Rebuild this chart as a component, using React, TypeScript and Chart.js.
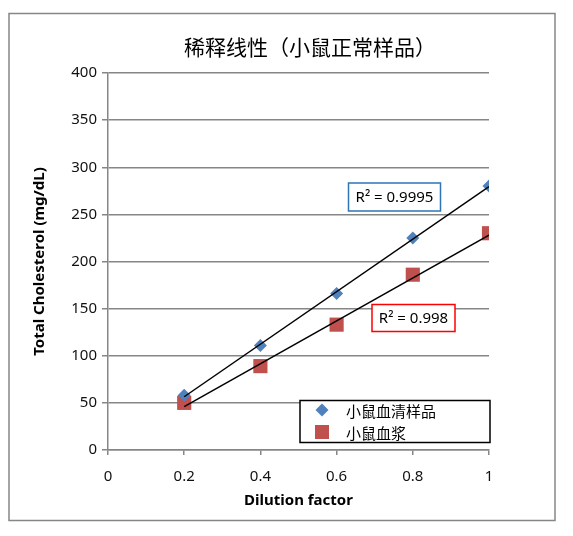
import { useEffect, useRef } from 'react';
import { Chart, registerables } from 'chart.js';

Chart.register(...registerables);

const dilution = [0.2, 0.4, 0.6, 0.8, 1.0];
const serumValues = [58, 111, 166, 225, 280];
const plasmaValues = [50, 89, 133, 186, 230];
const fitX = [0.2, 1.0];
const serumFit = [56.5, 279.5];
const plasmaFit = [46, 228];
const xTicks = [0, 0.2, 0.4, 0.6, 0.8, 1];
const legendLabels = ['小鼠血清样品', '小鼠血浆'];
const serumR2 = 'R² = 0.9995';
const plasmaR2 = 'R² = 0.998';
const chartTitle = '稀释线性（小鼠正常样品）';

const GRAY = '#868686';
const BLUE = '#4F81BD';
const RED = '#C0504D';
const LATIN = '"Noto Sans", "Open Sans", sans-serif';
const CJK = '"Noto Sans CJK SC", sans-serif';

const decorations = {
  id: 'decorations',
  beforeDraw(chart: any) {
    const { ctx, width, height } = chart;
    ctx.save();
    ctx.fillStyle = '#fff';
    ctx.fillRect(0, 0, width, height);
    ctx.strokeStyle = GRAY;
    ctx.lineWidth = 1.5;
    ctx.strokeRect(1, 5.5, 546, 507);
    ctx.restore();
  },
  afterDraw(chart: any) {
    const { ctx } = chart;
    ctx.save();
    // title
    ctx.fillStyle = '#000';
    ctx.font = `21px ${CJK}`;
    ctx.textAlign = 'center';
    ctx.textBaseline = 'middle';
    ctx.fillText(chartTitle, 302, 39);

    // R² labels
    const box = (x: number, y: number, w: number, h: number, color: string, text: string) => {
      ctx.fillStyle = '#fff';
      ctx.fillRect(x, y, w, h);
      ctx.strokeStyle = color;
      ctx.lineWidth = 1.5;
      ctx.strokeRect(x, y, w, h);
      ctx.fillStyle = '#000';
      ctx.font = `15px ${LATIN}`;
      ctx.textAlign = 'center';
      ctx.textBaseline = 'middle';
      ctx.fillText(text, x + w / 2, y + h / 2 + 1);
    };
    box(340.5, 175, 92, 28, '#2E75B6', serumR2);
    box(364, 296.5, 83, 27, '#FF0000', plasmaR2);

    // legend
    const lx = 292, ly = 392.5, lw = 190, lh = 42;
    ctx.fillStyle = '#fff';
    ctx.fillRect(lx, ly, lw, lh);
    ctx.strokeStyle = '#000';
    ctx.lineWidth = 1.5;
    ctx.strokeRect(lx, ly, lw, lh);
    ctx.font = `15px ${CJK}`;
    ctx.textAlign = 'left';
    ctx.textBaseline = 'middle';
    // diamond
    const dx = 314, dy = 402;
    ctx.fillStyle = BLUE;
    ctx.beginPath();
    ctx.moveTo(dx, dy - 6.5);
    ctx.lineTo(dx + 6.5, dy);
    ctx.lineTo(dx, dy + 6.5);
    ctx.lineTo(dx - 6.5, dy);
    ctx.closePath();
    ctx.fill();
    ctx.fillStyle = '#000';
    ctx.fillText(legendLabels[0], 338, dy + 1);
    // square
    const sy = 424;
    ctx.fillStyle = RED;
    ctx.fillRect(dx - 7, sy - 7, 14, 14);
    ctx.fillStyle = '#000';
    ctx.fillText(legendLabels[1], 338, sy + 1);
    ctx.restore();
  },
};

const App = () => {
  const chartRef = useRef<HTMLCanvasElement>(null);

  useEffect(() => {
    if (!chartRef.current) return;
    const chart = new Chart(chartRef.current, {
      type: 'scatter',
      data: {
        datasets: [
          {
            label: 'serum fit',
            data: fitX.map((x, i) => ({ x, y: serumFit[i] })),
            showLine: true,
            borderColor: '#000',
            borderWidth: 1.5,
            pointRadius: 0,
          },
          {
            label: 'plasma fit',
            data: fitX.map((x, i) => ({ x, y: plasmaFit[i] })),
            showLine: true,
            borderColor: '#000',
            borderWidth: 1.5,
            pointRadius: 0,
          },
          {
            label: legendLabels[0],
            data: dilution.map((x, i) => ({ x, y: serumValues[i] })),
            pointStyle: 'rectRot',
            pointRadius: 6.5,
            backgroundColor: BLUE,
            borderColor: BLUE,
            borderWidth: 0,
          },
          {
            label: legendLabels[1],
            data: dilution.map((x, i) => ({ x, y: plasmaValues[i] })),
            pointStyle: 'rect',
            pointRadius: 10,
            backgroundColor: RED,
            borderColor: RED,
            borderWidth: 0,
          },
        ],
      },
      options: {
        animation: false,
        responsive: false,
        events: [],
        layout: { padding: { left: 20, top: 65, right: 76, bottom: 18 } },
        plugins: {
          legend: { display: false },
          tooltip: { enabled: false },
        },
        scales: {
          x: {
            type: 'linear',
            min: 0,
            max: 1,
            afterFit: (scale: any) => {
              scale.height = 60;
            },
            afterBuildTicks: (scale: any) => {
              scale.ticks = xTicks.map((v) => ({ value: v }));
            },
            ticks: {
              color: '#111',
              font: { family: LATIN, size: 15 },
              padding: 13,
              callback: (v: any) => String(Number(Number(v).toFixed(1))),
            },
            grid: {
              drawOnChartArea: false,
              color: GRAY,
              tickLength: 5,
              lineWidth: 1.5,
            },
            border: { color: GRAY, width: 1.5 },
            title: {
              display: true,
              text: 'Dilution factor',
              color: '#000',
              font: { family: LATIN, size: 15, weight: 'bold' },
              padding: { top: 4, bottom: 0 },
            },
          },
          y: {
            min: 0,
            max: 400,
            afterFit: (scale: any) => {
              scale.width = 80;
            },
            ticks: {
              stepSize: 50,
              color: '#111',
              font: { family: LATIN, size: 15 },
              padding: 5,
            },
            grid: {
              color: GRAY,
              tickLength: 6,
              lineWidth: 1.5,
            },
            border: { color: GRAY, width: 1.5 },
            title: {
              display: true,
              text: 'Total Cholesterol (mg/dL)',
              color: '#000',
              font: { family: LATIN, size: 15, weight: 'bold' },
              padding: { top: 3, bottom: 3 },
            },
          },
        },
      },
      plugins: [decorations],
    });
    return () => chart.destroy();
  }, []);

  return (
    <div style={{ position: 'relative', width: 557, height: 520 }}>
      <canvas ref={chartRef} width={557} height={520} style={{ width: 557, height: 520 }} />
    </div>
  );
};

export default App;
